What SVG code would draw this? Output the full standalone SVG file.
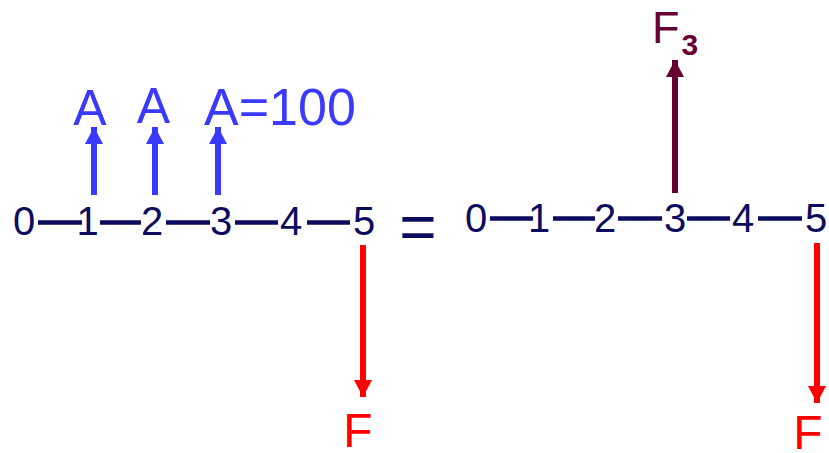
<svg xmlns="http://www.w3.org/2000/svg" width="829" height="453" viewBox="0 0 829 453">
<style>
.t{font-family:"Liberation Sans",Arial,sans-serif}
.num{font-size:40px;fill:#0c0c5e;text-anchor:middle}
.dash{stroke:#0c0c5e;stroke-width:4.5}
.blue{fill:#3a3aff}
.red{fill:#ff0000}
.mar{fill:#660033}
</style>
<defs>
<marker id="hb" markerUnits="userSpaceOnUse" markerWidth="18" markerHeight="18" refX="17" refY="9" orient="auto"><path d="M0,0 L17,9 L0,18 Z" fill="#3a3aff"/></marker>
<marker id="hr" markerUnits="userSpaceOnUse" markerWidth="18" markerHeight="18" refX="17" refY="9" orient="auto"><path d="M0,0 L17,9 L0,18 Z" fill="#ff0000"/></marker>
<marker id="hm" markerUnits="userSpaceOnUse" markerWidth="18" markerHeight="18" refX="17" refY="9" orient="auto"><path d="M0,0 L17,9 L0,18 Z" fill="#660033"/></marker>
</defs>
<g id="left-timeline" class="t">
<line class="dash" x1="38" y1="222.5" x2="82" y2="222.5"/>
<line class="dash" x1="100" y1="222.5" x2="141" y2="222.5"/>
<line class="dash" x1="166" y1="222.5" x2="210" y2="222.5"/>
<line class="dash" x1="235" y1="222.5" x2="278" y2="222.5"/>
<line class="dash" x1="307" y1="222.5" x2="350" y2="222.5"/>
<text class="num" x="24" y="235">0</text>
<text class="num" x="87.5" y="235">1</text>
<text class="num" x="152" y="235">2</text>
<text class="num" x="221" y="235">3</text>
<text class="num" x="291" y="235">4</text>
<text class="num" x="364" y="235">5</text>
</g>
<g id="equals" class="t"><text x="418" y="249" font-size="64" fill="#0c0c5e" text-anchor="middle">=</text></g>
<g id="right-timeline" class="t">
<line class="dash" x1="490" y1="218.5" x2="533" y2="218.5"/>
<line class="dash" x1="553" y1="218.5" x2="595" y2="218.5"/>
<line class="dash" x1="618" y1="218.5" x2="662" y2="218.5"/>
<line class="dash" x1="687" y1="218.5" x2="730" y2="218.5"/>
<line class="dash" x1="758" y1="218.5" x2="802" y2="218.5"/>
<text class="num" x="476" y="232">0</text>
<text class="num" x="539" y="232">1</text>
<text class="num" x="605" y="232">2</text>
<text class="num" x="675" y="232">3</text>
<text class="num" x="743" y="232">4</text>
<text class="num" x="816" y="232">5</text>
</g>
<g id="labels" class="t">
<text class="blue" x="90" y="125" font-size="50" text-anchor="middle">A</text>
<text class="blue" x="153.5" y="123" font-size="50" text-anchor="middle">A</text>
<text class="blue" x="204" y="125" font-size="52">A=100</text>
<text class="red" x="358" y="447" font-size="48" text-anchor="middle">F</text>
<text class="red" x="808" y="449" font-size="48" text-anchor="middle">F</text>
<text class="mar" x="652" y="43" font-size="45">F<tspan font-size="30" font-weight="bold" dx="2" dy="12">3</tspan></text>
</g>
<g id="connectors" stroke-width="6" fill="none">
<line x1="94" y1="195" x2="94" y2="127" stroke="#3a3aff" marker-end="url(#hb)"/>
<line x1="155" y1="195" x2="155" y2="127" stroke="#3a3aff" marker-end="url(#hb)"/>
<line x1="218" y1="195" x2="218" y2="127" stroke="#3a3aff" marker-end="url(#hb)"/>
<line x1="363" y1="245" x2="363" y2="397" stroke="#ff0000" marker-end="url(#hr)"/>
<line x1="817" y1="243" x2="817" y2="403" stroke="#ff0000" marker-end="url(#hr)"/>
<line x1="675" y1="193" x2="675" y2="60" stroke="#660033" marker-end="url(#hm)"/>
</g>
</svg>
